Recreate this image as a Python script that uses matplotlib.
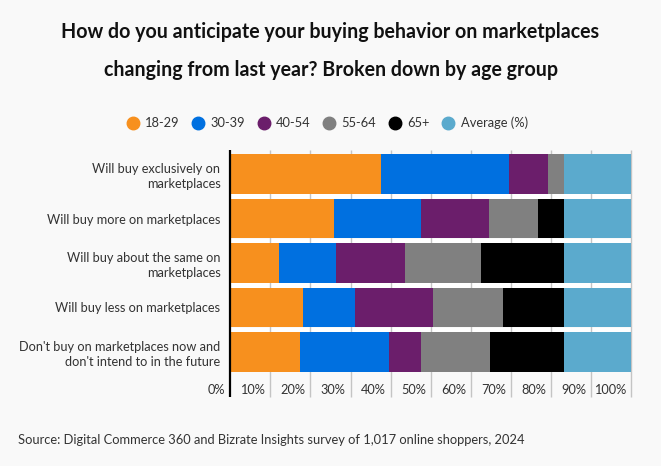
import numpy as np
import matplotlib
matplotlib.use("Agg")
import matplotlib.pyplot as plt
import matplotlib.transforms as mtransforms
from matplotlib.lines import Line2D

plt.rcParams['font.family'] = ['Lato', 'DejaVu Sans']

categories = [
    "Will buy exclusively on\nmarketplaces",
    "Will buy more on marketplaces",
    "Will buy about the same on\nmarketplaces",
    "Will buy less on marketplaces",
    "Don't buy on marketplaces now and\ndon't intend to in the future",
]
groups = ["18-29", "30-39", "40-54", "55-64", "65+", "Average (%)"]

age_18_29 = [37.6, 25.9, 12.2, 18.2, 17.4]
age_30_39 = [31.9, 21.6, 14.2, 12.9, 22.2]
age_40_54 = [9.7, 17.0, 17.2, 19.5, 8.0]
age_55_64 = [4.1, 12.3, 18.9, 17.4, 17.2]
age_65_plus = [0.0, 6.5, 20.8, 15.3, 18.5]
average = [16.7, 16.7, 16.7, 16.7, 16.7]

ticks = [0, 10, 20, 30, 40, 50, 60, 70, 80, 90, 100]
tick_labels = ["0%", "10%", "20%", "30%", "40%", "50%", "60%", "70%", "80%", "90%", "100%"]

series = [age_18_29, age_30_39, age_40_54, age_55_64, age_65_plus, average]
colors = ["#F7901E", "#0070E0", "#6B1E6B", "#808080", "#000000", "#5BAACD"]

BG = "#f9f9f9"
TXT = "#333333"
W, H = 661, 466

fig = plt.figure(figsize=(W / 100, H / 100), dpi=100, facecolor=BG)
ax = fig.add_axes([230.2 / W, 1 - 373 / H, 401.1 / W, 223 / H])
ax.set_facecolor(BG)

y = np.arange(len(categories))
left = np.zeros(len(categories))
for vals, col, name in zip(series, colors, groups):
    ax.barh(y, vals, left=left, height=0.89, color=col, zorder=2, label=name)
    left += np.array(vals)

ax.set_xlim(0, 100)
ax.set_ylim(4.475, -0.545)
for s in ax.spines.values():
    s.set_visible(False)

# white bands between rows
for yy in y[:-1] + 0.5:
    ax.axhline(yy, color="white", lw=3.6, zorder=0)

# grid lines, extending down as ticks
ext = -24 / 223
xt = ax.get_xaxis_transform()
ax.vlines(ticks[1:], ext, 1, transform=xt, colors="#c4c4c4", lw=1, zorder=1, clip_on=False)
ax.vlines(0, ext, 1, transform=xt, colors="black", lw=1.6, zorder=3, clip_on=False)

ax.set_xticks([])
ax.set_yticks(y)
ax.set_yticklabels(categories, fontsize=9.2, color=TXT, linespacing=1.3)
ax.tick_params(axis="y", length=0, pad=7)

lab_tr = mtransforms.offset_copy(xt, fig=fig, x=-5, y=0, units="dots")
for t, lab in zip(ticks, tick_labels):
    ax.text(t, -16.5 / 223, lab, transform=lab_tr, ha="right", va="center",
            fontsize=9.2, color=TXT)

fig.text(0.5, 1 - 32 / H, "How do you anticipate your buying behavior on marketplaces",
         ha="center", va="center", fontsize=14.1, fontweight="bold", color="#111111")
fig.text(0.5, 1 - 70 / H, "changing from last year? Broken down by age group",
         ha="center", va="center", fontsize=14.1, fontweight="bold", color="#111111")

handles = [Line2D([], [], marker="o", ls="", ms=9, mfc=c, mec=c) for c in colors]
fig.legend(handles, groups, loc="center", bbox_to_anchor=(327 / W, 1 - 123 / H),
           ncol=6, frameon=False, fontsize=9.3, handlelength=1.0, handletextpad=0.45,
           columnspacing=0.95, labelcolor=TXT)

fig.text(18 / W, 1 - 440 / H,
         "Source: Digital Commerce 360 and Bizrate Insights survey of 1,017 online shoppers, 2024",
         ha="left", va="center", fontsize=9.3, color=TXT)

fig.savefig("out.png", dpi=100, facecolor=BG)
